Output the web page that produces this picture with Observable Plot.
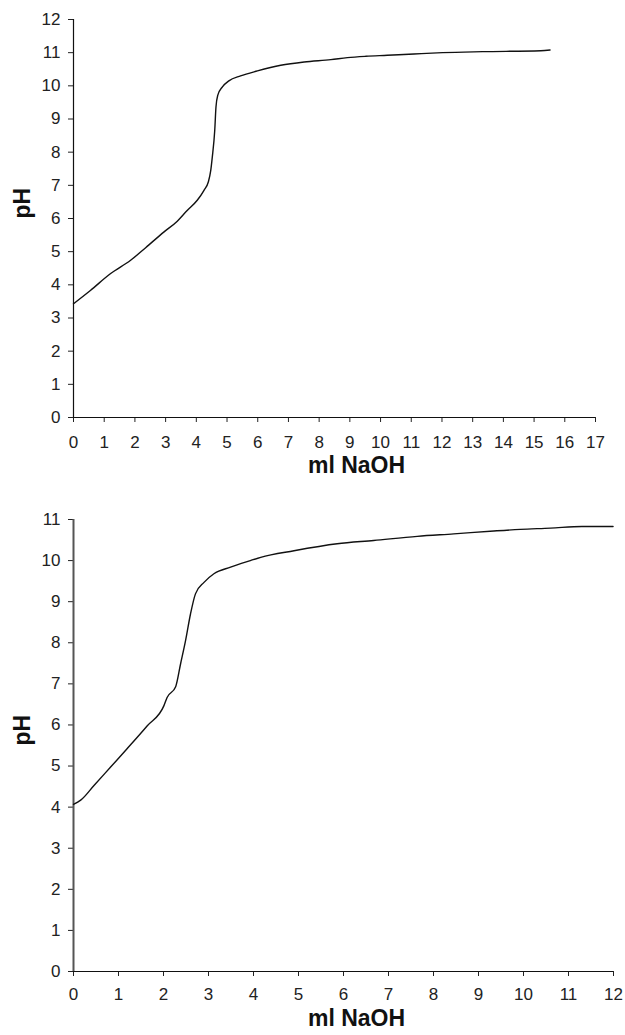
<!DOCTYPE html>
<html>
<head>
<meta charset="utf-8">
<script src="https://cdn.jsdelivr.net/npm/d3@7"></script>
<script src="https://cdn.jsdelivr.net/npm/@observablehq/plot@0.6"></script>
<style>
  html, body { margin: 0; padding: 0; background: #fff; }
  #c1, #c2 { display: block; }
</style>
</head>
<body>
<div id="c1"></div>
<div id="c2"></div>
<script>
// Chart 1: titration curve (x = ml NaOH, y = pH)
const ml1 = [0, 0.55, 1.21, 1.86, 2.35, 2.94, 3.38, 3.71, 4.03, 4.25, 4.39, 4.47, 4.52, 4.60, 4.64, 4.70, 4.85, 5.06, 5.44, 5.99, 6.75, 7.51, 8.38, 8.92, 9.52, 10.22, 11.09, 12.02, 13.32, 15.22, 15.52];
const pH1 = [3.43, 3.83, 4.34, 4.74, 5.12, 5.59, 5.92, 6.25, 6.55, 6.85, 7.10, 7.45, 7.85, 8.66, 9.36, 9.72, 9.97, 10.15, 10.30, 10.45, 10.62, 10.72, 10.79, 10.85, 10.89, 10.92, 10.96, 11.0, 11.03, 11.06, 11.08];
const xTicks1 = d3.range(0, 18);
const yTicks1 = d3.range(0, 13);

// Chart 2
const ml2 = [0, 0.16, 0.45, 0.82, 1.19, 1.64, 2.01, 2.08, 2.27, 2.38, 2.49, 2.6, 2.71, 2.90, 3.12, 3.49, 3.93, 4.16, 4.9, 5.86, 6.67, 7.64, 8.45, 9.34, 9.93, 10.6, 11.3, 11.99];
const pH2 = [4.07, 4.17, 4.52, 4.97, 5.42, 5.98, 6.47, 6.67, 6.93, 7.49, 8.05, 8.70, 9.19, 9.47, 9.68, 9.84, 10.0, 10.08, 10.24, 10.41, 10.49, 10.59, 10.65, 10.72, 10.76, 10.79, 10.83, 10.83];
const xTicks2 = d3.range(0, 13);
const yTicks2 = d3.range(0, 12);

const xLabel = "ml NaOH";
const yLabel = "pH";

const data1 = ml1.map((x, i) => ({x, y: pH1[i]}));
const data2 = ml2.map((x, i) => ({x, y: pH2[i]}));

const font = "'Liberation Sans', Arial, Helvetica, sans-serif";

function chart(data, xTicks, yTicks, opts) {
  return Plot.plot({
    width: 625,
    height: opts.height,
    marginTop: opts.mt,
    marginBottom: opts.mb,
    marginLeft: 73,
    marginRight: opts.mr,
    style: {fontFamily: font, fontSize: "17px", color: "#222", background: "#fff"},
    x: {domain: [xTicks[0], xTicks[xTicks.length - 1]]},
    y: {domain: [yTicks[0], yTicks[yTicks.length - 1]]},
    marks: [
      Plot.axisX({ticks: xTicks, tickSize: 5, tickPadding: opts.xpad, tickFormat: d => String(d), label: null, fontSize: 17}),
      Plot.axisY({ticks: yTicks, tickSize: 5, tickPadding: 8, tickFormat: d => String(d), label: null, fontSize: 17}),
      Plot.ruleY([yTicks[0]], {stroke: "#111", strokeWidth: 1.2}),
      Plot.ruleX([xTicks[0]], {stroke: opts.yAxisColor, strokeWidth: opts.yAxisWidth}),
      Plot.line(data, {x: "x", y: "y", stroke: "#111", strokeWidth: 1.4, curve: "monotone-x"}),
      Plot.text([xLabel], {frameAnchor: "bottom", dy: opts.xlabDy, dx: opts.xlabDx, fontWeight: "bold", fontSize: 23, fill: "#111"}),
      Plot.text([yLabel], {frameAnchor: "left", rotate: -90, dx: -51, fontWeight: "bold", fontSize: 23, fill: "#111"})
    ]
  });
}

document.getElementById("c1").append(chart(data1, xTicks1, yTicks1, {
  height: 490, mt: 19, mb: 73, mr: 30, xpad: 13, xlabDy: 55, xlabDx: 22, yAxisColor: "#111", yAxisWidth: 1.2
}));
document.getElementById("c2").append(chart(data2, xTicks2, yTicks2, {
  height: 545, mt: 29, mb: 64, mr: 12, xpad: 11, xlabDy: 54, xlabDx: 13, yAxisColor: "#555", yAxisWidth: 2
}));
</script>
</body>
</html>
